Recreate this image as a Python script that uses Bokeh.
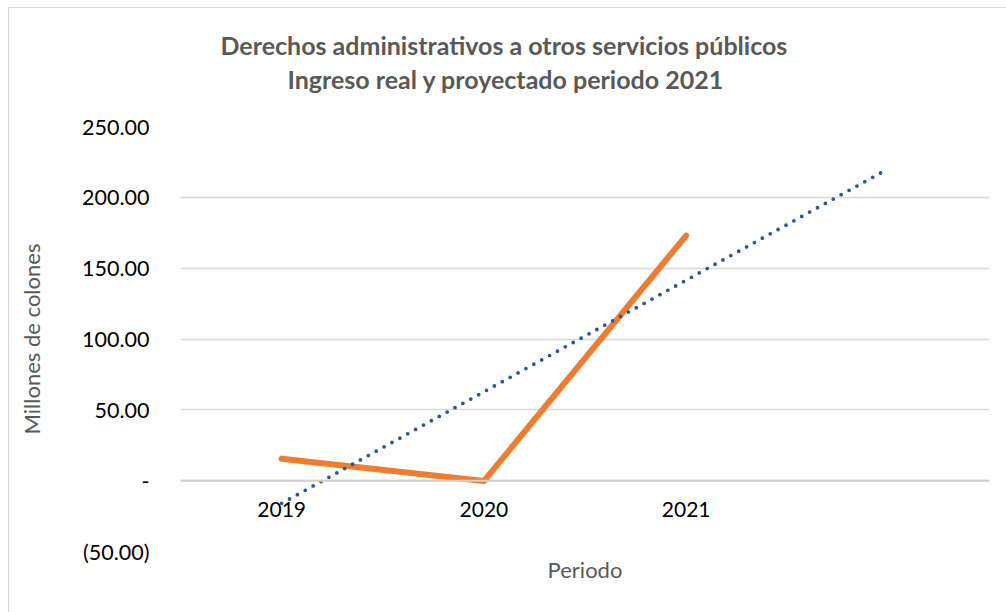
import numpy as np
from bokeh.plotting import figure
from bokeh.models import FixedTicker, Span, Title, ColumnDataSource
from bokeh.core.properties import value
from bokeh.embed import file_html
from bokeh.resources import INLINE

# ---- data ----
years = ["2019", "2020", "2021"]
period_index = [1, 2, 3]
ingreso_real = [15.5, -0.3, 173.0]
y_ticks = [-50, 0, 50, 100, 150, 200, 250]
y_tick_labels = ["(50.00)", "-", "50.00", "100.00", "150.00", "200.00", "250.00"]
forecast_forward = 1

# linear trendline (Excel style) computed from the real series
slope, intercept = np.polyfit(period_index, ingreso_real, 1)
trend_x = [period_index[0], period_index[-1] + forecast_forward]
trend_y = [slope * x + intercept for x in trend_x]

FONT = "Lato"

p = figure(width=998, height=605, output_backend="svg", toolbar_location=None,
           x_range=(0.5, 4.5), y_range=(-50, 250),
           min_border_left=171, min_border_right=18, min_border_top=118,
           min_border_bottom=62)
p.styles = {"margin-left": "8px", "margin-top": "7px",
            "border-left": "1px solid #d9d9d9", "border-top": "1px solid #d9d9d9",
            "box-sizing": "border-box"}
p.outline_line_color = None
p.background_fill_color = "white"
p.border_fill_color = "white"

# titles (later added = higher); a tiny spacer keeps them away from the frame
spacer = Title(text=" ", text_font_size="1px", standoff=29)
t2 = Title(text="Ingreso real y proyectado periodo 2021", align="left", offset=107,
           text_font=FONT, text_font_size="25px", text_font_style="bold",
           text_color="#595959", standoff=2)
t1 = Title(text="Derechos administrativos a otros servicios públicos", align="left",
           offset=40, text_font=FONT, text_font_size="25px", text_font_style="bold",
           text_color="#595959", standoff=2)
p.add_layout(spacer, "above")
p.add_layout(t2, "above")
p.add_layout(t1, "above")

# x axis hidden; category labels drawn at y=0
p.xaxis.visible = False
p.xgrid.visible = False
tb = Title(text="Periodo", align="center", text_font=FONT, text_font_size="22px",
           text_font_style="normal", text_color="#595959", standoff=4)
p.add_layout(tb, "below")

# y axis
p.yaxis.ticker = FixedTicker(ticks=y_ticks)
p.yaxis.major_label_overrides = {t: l for t, l in zip(y_ticks, y_tick_labels)}
p.yaxis.major_tick_line_color = None
p.yaxis.minor_tick_line_color = None
p.yaxis.axis_line_color = None
p.yaxis.major_label_standoff = 25
p.yaxis.major_label_text_font = FONT
p.yaxis.major_label_text_font_size = "21.5px"
p.yaxis.major_label_text_color = "#000000"
p.yaxis.axis_label = "Millones de colones"
p.yaxis.axis_label_text_font = FONT
p.yaxis.axis_label_text_font_size = "22px"
p.yaxis.axis_label_text_font_style = "normal"
p.yaxis.axis_label_text_color = "#595959"
p.yaxis.axis_label_standoff = 34

p.ygrid.ticker = FixedTicker(ticks=y_ticks)
p.ygrid.grid_line_color = "#d9d9d9"
p.ygrid.grid_line_width = 1.3

p.add_layout(Span(location=0, dimension="width", line_color="#d0d0d0", line_width=2))

# year labels
src_years = ColumnDataSource(dict(x=period_index, y=[0] * len(period_index), t=years))
p.text(x="x", y="y", text="t", source=src_years, y_offset=29,
       text_align="center", text_baseline="middle", text_font=value(FONT),
       text_font_size="21px", text_color="#000000")

# real series
p.line(period_index, ingreso_real, line_color="#ED7D31", line_width=6,
       line_cap="round", line_join="round")

# trendline (dotted)
p.line(trend_x, trend_y, line_color="#2F5597", line_width=3.8,
       line_dash="0 9", line_cap="round")

open("out.html", "w").write(file_html(p, INLINE))
